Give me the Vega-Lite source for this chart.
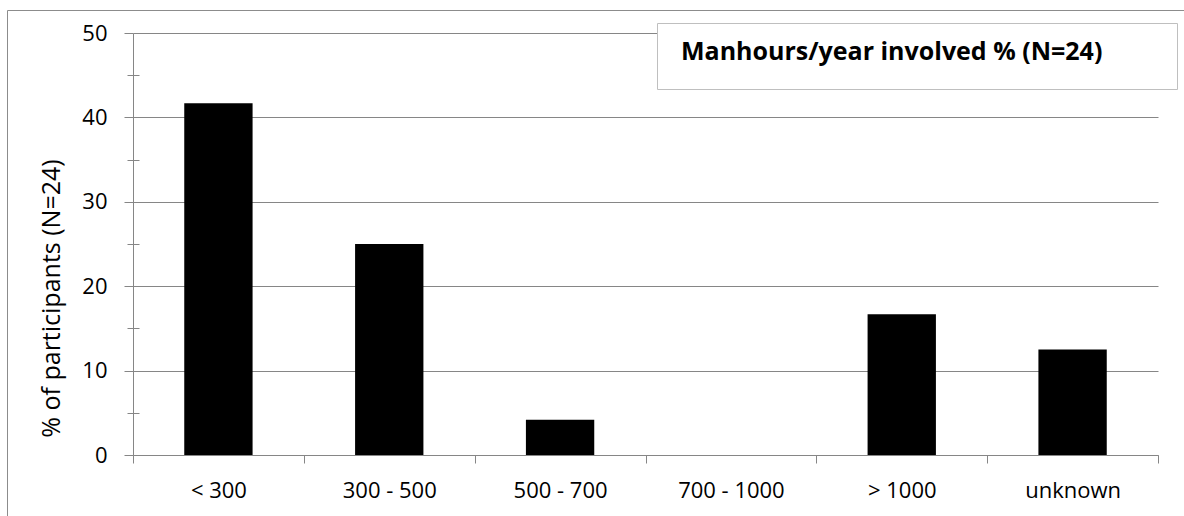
{
  "$schema": "https://vega.github.io/schema/vega-lite/v6.json",
  "width": 1025,
  "height": 422,
  "autosize": {"type": "none"},
  "padding": {"left": 133, "top": 33, "right": 26, "bottom": 61},
  "background": "white",
  "config": {"view": {"stroke": null}, "font": "Open Sans"},
  "data": {
    "values": [
      {"cat": "< 300", "pct": 41.67, "series": "Manhours/year involved % (N=24)"},
      {"cat": "300 - 500", "pct": 25, "series": "Manhours/year involved % (N=24)"},
      {"cat": "500 - 700", "pct": 4.17, "series": "Manhours/year involved % (N=24)"},
      {"cat": "700 - 1000", "pct": 0, "series": "Manhours/year involved % (N=24)"},
      {"cat": "> 1000", "pct": 16.67, "series": "Manhours/year involved % (N=24)"},
      {"cat": "unknown", "pct": 12.5, "series": "Manhours/year involved % (N=24)"}
    ]
  },
  "layer": [
    {
      "layer": [
        {
          "mark": {"type": "bar", "width": {"band": 0.4}},
          "encoding": {
            "x": {
              "field": "cat", "type": "nominal", "sort": null,
              "scale": {"paddingInner": 0, "paddingOuter": 0},
              "axis": {
                "title": null, "labelAngle": 0, "tickBand": "extent", "tickSize": 8,
                "tickColor": "#868686", "domainColor": "#868686", "grid": false,
                "labelFont": "Open Sans", "labelFontSize": 22, "labelColor": "black", "labelPadding": 17
              }
            },
            "y": {
              "field": "pct", "type": "quantitative",
              "scale": {"domain": [0, 50], "nice": false},
              "axis": {
                "orient": "left",
                "values": [0, 10, 20, 30, 40, 50], "tickSize": 9, "tickColor": "#868686",
                "domainColor": "#868686", "grid": true, "gridColor": "#868686",
                "labelFont": "Open Sans", "labelFontSize": 22, "labelColor": "black", "labelPadding": 17,
                "title": "% of participants (N=24)", "titleFont": "Open Sans", "titleFontSize": 25,
                "titleFontWeight": "normal", "titleColor": "black", "titleX": -82, "titleY": 265,
                "titleBaseline": "middle", "titleAlign": "center", "titleAngle": 270
              }
            },
            "color": {
              "field": "series", "type": "nominal",
              "scale": {"range": ["black"]},
              "legend": {
                "orient": "none", "legendX": 524, "legendY": -10,
                "title": "Manhours/year involved % (N=24)",
                "titleOrient": "left", "titleFont": "Open Sans", "titleFontSize": 25,
                "titleFontWeight": "bold", "titleColor": "black", "titleLimit": 1000,
                "titlePadding": 36, "labelExpr": "''",
                "symbolOpacity": 0, "symbolSize": 0, "symbolStrokeWidth": 0,
                "fillColor": "white", "strokeColor": "#bfbfbf", "padding": 24
              }
            }
          }
        },
        {
          "mark": {"type": "point", "opacity": 0},
          "encoding": {
            "y": {
              "field": "pct", "type": "quantitative",
              "axis": {
                "orient": "left", "values": [5, 15, 25, 35, 45], "offset": -6, "tickSize": 12,
                "tickColor": "#868686", "domain": false, "labels": false, "grid": false, "title": null
              }
            }
          }
        }
      ],
      "resolve": {"axis": {"y": "independent"}}
    },
    {
      "mark": {"type": "point", "opacity": 0},
      "encoding": {
        "x": {
          "field": "pct", "type": "quantitative",
          "scale": {"domain": [0, 1], "range": [-126, 1051]},
          "axis": {"orient": "top", "values": [0], "grid": true, "gridColor": "#8c8c8c", "domain": false, "ticks": false, "labels": false, "title": null}
        },
        "y": {
          "field": "pct", "type": "quantitative",
          "scale": {"domain": [0, 1], "range": [483, -23]},
          "axis": {"orient": "left", "values": [1], "grid": true, "gridColor": "#8c8c8c", "domain": false, "ticks": false, "labels": false, "title": null}
        }
      }
    }
  ],
  "resolve": {"scale": {"x": "independent", "y": "independent"}}
}
